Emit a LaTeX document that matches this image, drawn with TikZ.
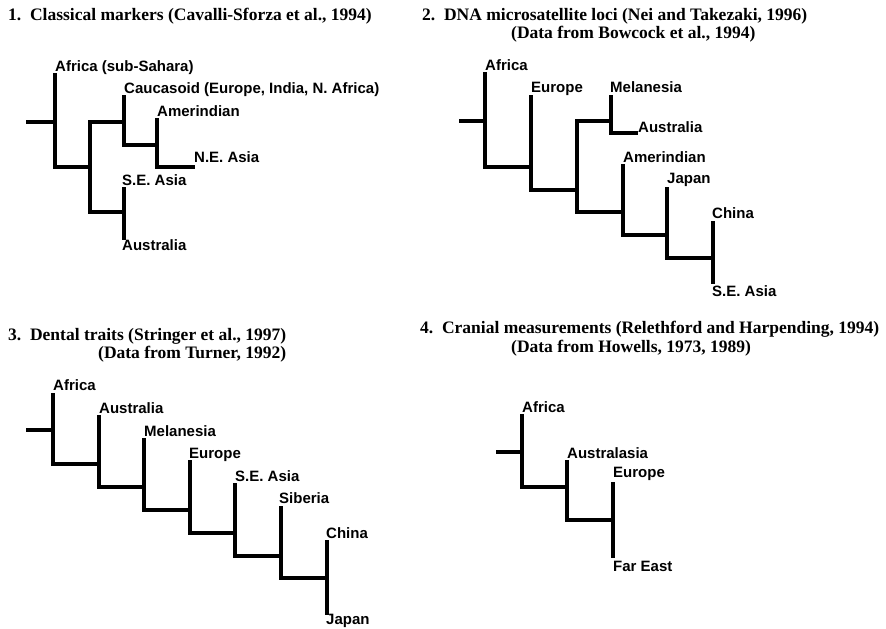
\documentclass[tikz,border=0pt]{standalone}
\usepackage{fontspec}
\setmainfont{Liberation Serif}
\newfontfamily\labfam{Liberation Sans}
\newcommand{\ttlfont}{\fontsize{17.5}{18}\selectfont\bfseries\rmfamily}
\newcommand{\labfont}{\fontsize{15}{16}\selectfont\bfseries\labfam}
\begin{document}
\begin{tikzpicture}[x=1pt,y=-1pt,
  br/.style={line width=3.8pt, line cap=rect, draw=black},
  lab/.style={anchor=base west, inner sep=0pt, font=\labfont},
  ttl/.style={anchor=base west, inner sep=0pt, font=\ttlfont}]
\useasboundingbox[fill=white] (0,0) rectangle (886,629);

% ---------- Panel 1 ----------
\node[ttl] (t1) at (8,20) {1.\ \ Classical markers (Cavalli-Sforza et al., 1994)};
\coordinate (a0) at (28,122);  \coordinate (a1) at (55,122);
\coordinate (a1t) at (55,75);  \coordinate (a1b) at (55,167);
\coordinate (a2m) at (90,167);
\coordinate (a2t) at (90,122); \coordinate (a2b) at (90,212);
\coordinate (a3m) at (124,122);
\coordinate (a3t) at (124,97); \coordinate (a3b) at (124,145);
\coordinate (a4m) at (157,145);
\coordinate (a4t) at (157,120); \coordinate (a4b) at (157,167);
\coordinate (a4e) at (193,167);
\coordinate (a5m) at (124,212);
\coordinate (a5t) at (124,189); \coordinate (a5b) at (124,238);
\draw[br] (a0)--(a1); \draw[br] (a1t)--(a1b); \draw[br] (a1b)--(a2m);
\draw[br] (a2t)--(a2b); \draw[br] (a2t)--(a3m); \draw[br] (a3t)--(a3b);
\draw[br] (a3b)--(a4m); \draw[br] (a4t)--(a4b); \draw[br] (a4b)--(a4e);
\draw[br] (a2b)--(a5m); \draw[br] (a5t)--(a5b);
\node[lab] (l1a) at (55,71) {Africa (sub-Sahara)};
\node[lab] (l1b) at (124,93) {Caucasoid (Europe, India, N. Africa)};
\node[lab] (l1c) at (157,116) {Amerindian};
\node[lab] (l1d) at (194,162) {N.E. Asia};
\node[lab] (l1e) at (122,185) {S.E. Asia};
\node[lab] (l1f) at (122,250) {Australia};

% ---------- Panel 2 ----------
\node[ttl] (t2a) at (422,20) {2.\ \ DNA microsatellite loci (Nei and Takezaki, 1996)};
\node[ttl] (t2b) at (511,38) {(Data from Bowcock et al., 1994)};
\coordinate (b0) at (461,121); \coordinate (b1) at (485,121);
\coordinate (b1t) at (485,74); \coordinate (b1b) at (485,167);
\coordinate (b2m) at (531,167);
\coordinate (b2t) at (531,97); \coordinate (b2b) at (531,190);
\coordinate (b3m) at (577,190);
\coordinate (b3t) at (577,121); \coordinate (b3b) at (577,212);
\coordinate (b4m) at (611,121);
\coordinate (b4t) at (611,97); \coordinate (b4b) at (611,133);
\coordinate (b4e) at (636,133);
\coordinate (b5m) at (623,212);
\coordinate (b5t) at (623,166); \coordinate (b5b) at (623,235);
\coordinate (b6m) at (667,235);
\coordinate (b6t) at (667,189); \coordinate (b6b) at (667,258);
\coordinate (b7m) at (713,258);
\coordinate (b7t) at (713,223); \coordinate (b7b) at (713,282);
\draw[br] (b0)--(b1); \draw[br] (b1t)--(b1b); \draw[br] (b1b)--(b2m);
\draw[br] (b2t)--(b2b); \draw[br] (b2b)--(b3m); \draw[br] (b3t)--(b3b);
\draw[br] (b3t)--(b4m); \draw[br] (b4t)--(b4b); \draw[br] (b4b)--(b4e);
\draw[br] (b3b)--(b5m); \draw[br] (b5t)--(b5b); \draw[br] (b5b)--(b6m);
\draw[br] (b6t)--(b6b); \draw[br] (b6b)--(b7m); \draw[br] (b7t)--(b7b);
\node[lab] (l2a) at (485,70) {Africa};
\node[lab] (l2b) at (531,92) {Europe};
\node[lab] (l2c) at (610,92) {Melanesia};
\node[lab] (l2d) at (638,132) {Australia};
\node[lab] (l2e) at (623,162) {Amerindian};
\node[lab] (l2f) at (667,183) {Japan};
\node[lab] (l2g) at (712,218) {China};
\node[lab] (l2h) at (712,296) {S.E. Asia};

% ---------- Panel 3 ----------
\node[ttl] (t3a) at (8,340) {3.\ \ Dental traits (Stringer et al., 1997)};
\node[ttl] (t3b) at (98,358) {(Data from Turner, 1992)};
\coordinate (c0) at (28,430); \coordinate (c1) at (53,430);
\coordinate (c1t) at (53,395); \coordinate (c1b) at (53,464);
\coordinate (c2m) at (99,464);
\coordinate (c2t) at (99,417); \coordinate (c2b) at (99,487);
\coordinate (c3m) at (144,487);
\coordinate (c3t) at (144,440); \coordinate (c3b) at (144,510);
\coordinate (c4m) at (190,510);
\coordinate (c4t) at (190,462); \coordinate (c4b) at (190,533);
\coordinate (c5m) at (235,533);
\coordinate (c5t) at (235,485); \coordinate (c5b) at (235,556);
\coordinate (c6m) at (281,556);
\coordinate (c6t) at (281,508); \coordinate (c6b) at (281,578);
\coordinate (c7m) at (327,578);
\coordinate (c7t) at (327,542); \coordinate (c7b) at (327,613);
\draw[br] (c0)--(c1); \draw[br] (c1t)--(c1b); \draw[br] (c1b)--(c2m);
\draw[br] (c2t)--(c2b); \draw[br] (c2b)--(c3m);
\draw[br] (c3t)--(c3b); \draw[br] (c3b)--(c4m);
\draw[br] (c4t)--(c4b); \draw[br] (c4b)--(c5m);
\draw[br] (c5t)--(c5b); \draw[br] (c5b)--(c6m);
\draw[br] (c6t)--(c6b); \draw[br] (c6b)--(c7m);
\draw[br] (c7t)--(c7b);
\node[lab] (l3a) at (53,390) {Africa};
\node[lab] (l3b) at (99,413) {Australia};
\node[lab] (l3c) at (144,436) {Melanesia};
\node[lab] (l3d) at (189,458) {Europe};
\node[lab] (l3e) at (235,481) {S.E. Asia};
\node[lab] (l3f) at (279,503) {Siberia};
\node[lab] (l3g) at (326,538) {China};
\node[lab] (l3h) at (326,624) {Japan};

% ---------- Panel 4 ----------
\node[ttl] (t4a) at (420,333) {4.\ \ Cranial measurements (Relethford and Harpending, 1994)};
\node[ttl] (t4b) at (511,352) {(Data from Howells, 1973, 1989)};
\coordinate (d0) at (498,452); \coordinate (d1) at (522,452);
\coordinate (d1t) at (522,416); \coordinate (d1b) at (522,487);
\coordinate (d2m) at (567,487);
\coordinate (d2t) at (567,462); \coordinate (d2b) at (567,520);
\coordinate (d3m) at (613,520);
\coordinate (d3t) at (613,484); \coordinate (d3b) at (613,556);
\draw[br] (d0)--(d1); \draw[br] (d1t)--(d1b); \draw[br] (d1b)--(d2m);
\draw[br] (d2t)--(d2b); \draw[br] (d2b)--(d3m); \draw[br] (d3t)--(d3b);
\node[lab] (l4a) at (522,412) {Africa};
\node[lab] (l4b) at (567,458) {Australasia};
\node[lab] (l4c) at (613,477) {Europe};
\node[lab] (l4d) at (613,571) {Far East};
\end{tikzpicture}
\end{document}
